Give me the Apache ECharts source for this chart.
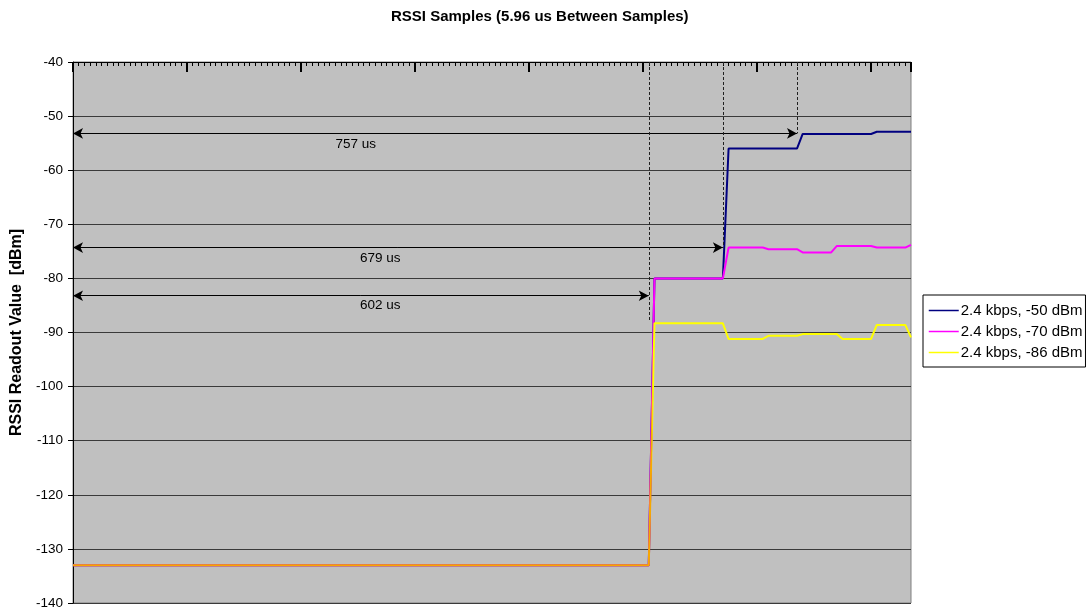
<!DOCTYPE html>
<html>
<head>
<meta charset="utf-8">
<script src="https://cdn.jsdelivr.net/npm/echarts@6/dist/echarts.min.js"></script>
<style>
  html, body { margin: 0; padding: 0; background: #fff; }
  #chart { width: 1092px; height: 615px; }
</style>
</head>
<body>
<div id="chart"></div>
<script>
// sample indexes (5.96 us each) where the reading changes, with held values
const names = ['2.4 kbps, -50 dBm', '2.4 kbps, -70 dBm', '2.4 kbps, -86 dBm'];

const idx50 = [0, 101, 102, 114, 115, 127, 128, 140, 141, 147];
const val50 = [-133, -133, -80, -80, -56, -56, -53.3, -53.3, -52.9, -52.9];

const idx70 = [0, 101, 102, 114, 115, 121, 122, 127, 128, 133, 134, 140, 141, 146, 147];
const val70 = [-133, -133, -80, -80, -74.3, -74.3, -74.6, -74.6, -75.2, -75.2, -74, -74, -74.3, -74.3, -73.8];

const idx86 = [0, 101, 102, 114, 115, 121, 122, 127, 128, 134, 135, 140, 141, 146, 147];
const val86 = [-133, -133, -88.3, -88.3, -91.2, -91.2, -90.6, -90.6, -90.3, -90.3, -91.2, -91.2, -88.6, -88.6, -90.9];

// delay markers: sample index, arrow level, dashed line bottom, label text
const markIdx = [101, 114, 127];
const markLevel = [-83.2, -74.3, -53.2];
const markDashEnd = [-88, -74.3, -53.2];
const markText = ['602 us', '679 us', '757 us'];
const markTextPos = [[53.9, -84.9], [53.9, -76.2], [49.6, -55.2]];

const colors = ['#000080', '#FF00FF', '#FFFF00'];
const font = 'Arial, "Liberation Sans", sans-serif';

function pairs(ix, vs) {
  return ix.map((x, i) => [x, vs[i]]);
}

const chart = echarts.init(document.getElementById('chart'));

const arrowLines = markIdx.map((x, i) => [
  { coord: [0, markLevel[i]] },
  { coord: [x, markLevel[i]] }
]);
const dashLines = markIdx.map((x, i) => [
  { coord: [x, -40], symbol: 'none', lineStyle: { type: [3, 2], color: '#202020', width: 1 } },
  { coord: [x, markDashEnd[i]], symbol: 'none' }
]);

// the flat part before the step shows orange in the original
const split = 101.3 / 147;
const yellowLine = {
  type: 'linear', x: 0, y: 0, x2: 1, y2: 0,
  colorStops: [
    { offset: 0, color: '#F5A800' },
    { offset: split, color: '#F5A800' },
    { offset: split + 0.002, color: colors[2] },
    { offset: 1, color: colors[2] }
  ]
};

chart.setOption({
  animation: false,
  textStyle: { fontFamily: font },
  title: {
    text: 'RSSI Samples (5.96 us Between Samples)',
    left: 386, top: 4,
    textStyle: { fontSize: 15, fontWeight: 'bold', color: '#000', fontFamily: font }
  },
  legend: {
    orient: 'vertical',
    left: 923, top: 295,
    data: names.map((n, i) => ({ name: n, lineStyle: { color: colors[i], width: 1.5 } })),
    itemWidth: 30, itemHeight: 10, itemGap: 4,
    padding: [7, 3, 6, 5],
    borderColor: '#000', borderWidth: 1, borderRadius: 0,
    backgroundColor: '#fff',
    itemStyle: { opacity: 0 },
    textStyle: { fontSize: 15, lineHeight: 17, color: '#000', fontFamily: font, padding: [0, 0, 0, -3] }
  },
  grid: {
    left: 73, right: 181, top: 62, bottom: 12,
    outerBoundsMode: 'none',
    show: true, backgroundColor: '#C0C0C0',
    borderColor: '#808080', borderWidth: 1
  },
  xAxis: [
    {
      type: 'value', position: 'top', min: 0, max: 147, interval: 1,
      axisLine: { show: true, onZero: false, lineStyle: { color: '#000', width: 1 } },
      axisTick: { show: true, inside: true, length: 4, lineStyle: { color: '#000' } },
      axisLabel: { show: false }, splitLine: { show: false }
    },
    {
      type: 'value', position: 'top', min: 0, max: 147, interval: 20,
      axisLine: { show: false, onZero: false },
      axisTick: { show: true, inside: true, length: 10, lineStyle: { color: '#000', width: 2 } },
      axisLabel: { show: false }, splitLine: { show: false }
    }
  ],
  yAxis: {
    type: 'value', min: -140, max: -40, interval: 10,
    name: 'RSSI Readout Value  [dBm]', nameLocation: 'middle', nameGap: 48,
    nameTextStyle: { fontSize: 16, fontWeight: 'bold', color: '#000', fontFamily: font },
    axisLine: { show: true, onZero: false, lineStyle: { color: '#000' } },
    axisTick: { show: true, length: 5, lineStyle: { color: '#000' } },
    axisLabel: { fontSize: 13.5, color: '#000', margin: 10, fontFamily: font },
    splitLine: { show: true, lineStyle: { color: '#3A3A3A', width: 1 } }
  },
  series: [
    {
      name: names[0], type: 'line', symbol: 'none', z: 2,
      data: pairs(idx50, val50),
      lineStyle: { color: colors[0], width: 2 }, itemStyle: { color: colors[0] }
    },
    {
      name: names[1], type: 'line', symbol: 'none', z: 3,
      data: pairs(idx70, val70),
      lineStyle: { color: colors[1], width: 2 }, itemStyle: { color: colors[1] }
    },
    {
      name: names[2], type: 'line', symbol: 'none', z: 4,
      data: pairs(idx86, val86),
      lineStyle: { color: yellowLine, width: 2 }, itemStyle: { color: colors[2] }
    },
    {
      name: 'markers', type: 'line', data: [], z: 5, silent: true,
      markLine: {
        silent: true, animation: false,
        symbol: ['arrow', 'arrow'], symbolSize: [8, 10],
        lineStyle: { color: '#000', width: 1, type: 'solid' },
        label: { show: false },
        data: arrowLines.concat(dashLines)
      },
      markPoint: {
        silent: true, animation: false,
        symbol: 'circle', symbolSize: 1,
        itemStyle: { color: 'rgba(0,0,0,0)' },
        label: {
          show: true, position: 'inside', color: '#000', fontSize: 13.5, fontFamily: font,
          formatter: p => p.name
        },
        data: markText.map((t, i) => ({ name: t, coord: markTextPos[i] }))
      }
    }
  ]
});
</script>
</body>
</html>
